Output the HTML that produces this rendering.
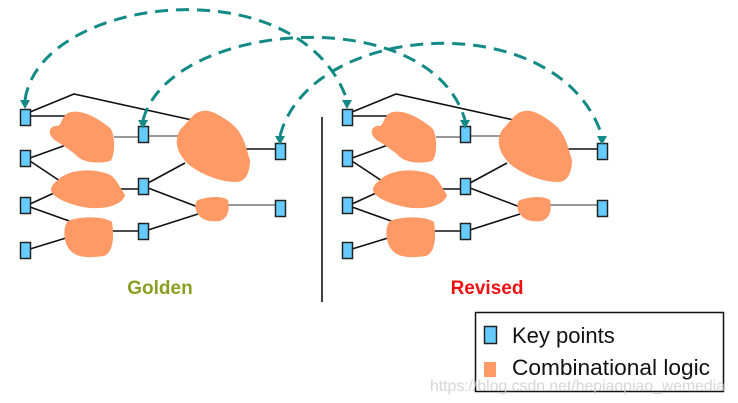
<!DOCTYPE html>
<html><head><meta charset="utf-8"><style>
html,body{margin:0;padding:0;background:#fff;width:738px;height:403px;overflow:hidden}
</style></head><body>
<svg width="738" height="403" viewBox="0 0 738 403" xmlns="http://www.w3.org/2000/svg" font-family="Liberation Sans, sans-serif">
<defs>
<g id="half">
 <g stroke="#111" stroke-width="1.6" fill="none">
  <polyline points="30,112 74,94 192,120"/>
  <line x1="30" y1="116" x2="66" y2="116"/>
  <line x1="30" y1="158" x2="66" y2="145"/>
  <line x1="30" y1="161" x2="60" y2="181"/>
  <line x1="30" y1="204" x2="54" y2="193"/>
  <line x1="30" y1="207" x2="72" y2="222"/>
  <line x1="30" y1="249" x2="66" y2="238"/>
  <line x1="114" y1="137" x2="138" y2="137" stroke="#777"/>
  <line x1="148" y1="136" x2="182" y2="136" stroke="#777"/>
  <line x1="120" y1="189" x2="138" y2="189"/>
  <line x1="148" y1="183" x2="185" y2="163"/>
  <line x1="148" y1="188" x2="198" y2="207"/>
  <line x1="112" y1="231" x2="138" y2="231"/>
  <line x1="148" y1="230" x2="198" y2="214"/>
  <line x1="246" y1="149" x2="276" y2="149"/>
  <line x1="226" y1="205" x2="276" y2="205" stroke="#777"/>
 </g>
 <g fill="#ff9966">
  <path d="M68,113 C80,108 98,118 110,128 C116,135 115,158 110,161 C100,164 82,163 76,155 C70,150 64,146 58,142 C46,136 48,125 58,126 C62,124 62,116 68,113Z"/>
  <path d="M58,180 C70,168 98,168 112,176 C118,182 120,188 125,195 C122,206 104,209 90,208 C72,206 52,198 51,190 C51,186 54,183 58,180Z"/>
  <path d="M68,221 C80,216 104,216 112,222 C114,235 114,252 104,256 C90,258 76,258 70,250 C64,244 62,228 68,221Z"/>
  <path d="M195,114 C206,107 216,112 232,124 C244,134 246,148 250,160 C250,172 246,182 236,182 C220,182 200,174 188,164 C176,152 174,140 180,130 C186,124 190,118 195,114Z"/>
  <path d="M198,200 C210,196 222,196 228,200 C230,210 228,218 220,221 C212,222 202,221 198,214 C194,208 195,202 198,200Z"/>
 </g>
 <g fill="#66ccff" stroke="#222" stroke-width="1.5">
  <rect x="20.5" y="109.5" width="10" height="16"/>
  <rect x="20.5" y="150.5" width="10" height="16"/>
  <rect x="20.5" y="197.5" width="10" height="16"/>
  <rect x="20.5" y="242.5" width="10" height="16"/>
  <rect x="138.5" y="126.5" width="10" height="16"/>
  <rect x="138.5" y="178.5" width="10" height="16"/>
  <rect x="138.5" y="223.5" width="10" height="16"/>
  <rect x="275.5" y="143.5" width="10" height="16"/>
  <rect x="275.5" y="200.5" width="10" height="16"/>
 </g>
</g>
</defs>
<use href="#half"/>
<use href="#half" transform="translate(322,0)"/>
<line x1="322" y1="117" x2="322" y2="302" stroke="#111" stroke-width="1.6"/>
<g fill="none" stroke="#138a86" stroke-width="3" stroke-dasharray="13,8">
 <path d="M25,100 C40,-5 300,-35 347,100"/>
 <path d="M143,120 C170,20 430,0 465,120"/>
 <path d="M280,136 C310,20 560,5 602,136"/>
</g>
<g fill="#138a86">
 <polygon points="20,100 30,100 25,109"/>
 <polygon points="342,100 352,100 347,109"/>
 <polygon points="138,120 148,120 143,129"/>
 <polygon points="460,120 470,120 465,129"/>
 <polygon points="275,136 285,136 280,145"/>
 <polygon points="597,136 607,136 602,145"/>
</g>
<text x="160" y="294" font-size="19" font-weight="bold" fill="#8aa022" text-anchor="middle">Golden</text>
<text x="487" y="294" font-size="19" font-weight="bold" fill="#ee1111" text-anchor="middle">Revised</text>
<rect x="475.5" y="312.5" width="248" height="79" fill="#fff" stroke="#111" stroke-width="1.5"/>
<rect x="484.5" y="326.5" width="12" height="17" fill="#66ccff" stroke="#222" stroke-width="1.5"/>
<rect x="484" y="362" width="12" height="15" fill="#ff9966"/>
<text x="512" y="343" font-size="22" fill="#111">Key points</text>
<text x="512" y="375" font-size="22" fill="#111" textLength="198" lengthAdjust="spacingAndGlyphs">Combinational logic</text>
<text x="430" y="391" font-size="16" fill="#ccc" opacity="0.8" textLength="295" lengthAdjust="spacingAndGlyphs">https://blog.csdn.net/hepiaopiao_wemedia</text>
</svg>
</body></html>
